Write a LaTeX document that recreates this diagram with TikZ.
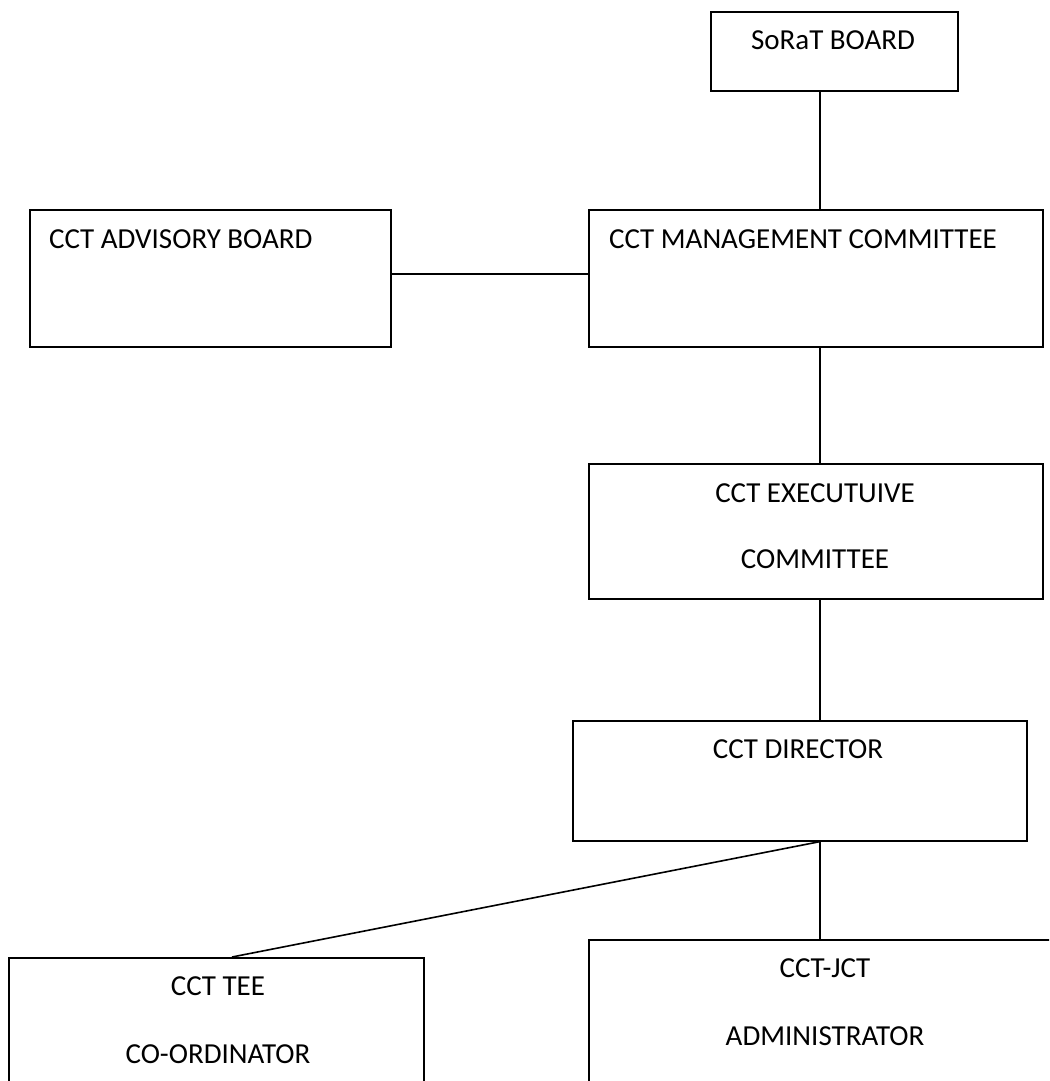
\documentclass[tikz,border=0pt]{standalone}
\usepackage{fontspec}
\setmainfont{Carlito}
\begin{document}
\begin{tikzpicture}[x=1pt,y=-1pt,
  orgbox/.style={draw=black,line width=1.6pt,fill=white,inner sep=0pt,anchor=north west},
  lbl/.style={inner sep=0pt,anchor=base,font=\fontsize{29}{35}\selectfont},
  link/.style={draw=black,line width=1.6pt}]
\useasboundingbox (0,0) rectangle (1049,1081);
\clip (0,0) rectangle (1049,1081);
% boxes
\node[orgbox,minimum width=247pt,minimum height=79pt] (sorat) at (710,11) {};
\node[orgbox,minimum width=361pt,minimum height=137pt] (adv) at (29,209) {};
\node[orgbox,minimum width=454pt,minimum height=137pt] (mgmt) at (588,209) {};
\node[orgbox,minimum width=454pt,minimum height=135pt] (exec) at (588,463) {};
\node[orgbox,minimum width=454pt,minimum height=120pt] (dir) at (572,720) {};
\node[orgbox,minimum width=415pt,minimum height=160pt] (tee) at (8,957) {};
\node[orgbox,minimum width=500pt,minimum height=180pt] (adm) at (588,939) {};
% texts
\node[lbl] (tsorat) at (833,50) {SoRaT BOARD};
\node[lbl,anchor=base west] (tadv) at (49,248) {CCT ADVISORY BOARD};
\node[lbl,anchor=base west] (tmgmt) at (609,248) {CCT MANAGEMENT COMMITTEE};
\node[lbl] (texec1) at (815,502) {CCT EXECUTUIVE};
\node[lbl] (texec2) at (815,568) {COMMITTEE};
\node[lbl] (tdir) at (798,758) {CCT DIRECTOR};
\node[lbl] (ttee1) at (218,995) {CCT TEE};
\node[lbl] (ttee2) at (218,1063) {CO-ORDINATOR};
\node[lbl] (tadm1) at (825,977) {CCT-JCT};
\node[lbl] (tadm2) at (825,1045) {ADMINISTRATOR};
% connectors
\coordinate (spine) at (820,0);
\coordinate (teetop) at (232,957);
\draw[link] (sorat.south -| spine) -- (mgmt.north -| spine);
\draw[link] (adv.east |- 0,274) -- (mgmt.west |- 0,274);
\draw[link] (mgmt.south -| spine) -- (exec.north -| spine);
\draw[link] (exec.south -| spine) -- (dir.north -| spine);
\draw[link] (dir.south -| spine) -- (adm.north -| spine);
\draw[link] (dir.south -| spine) -- (teetop);
\end{tikzpicture}
\end{document}
